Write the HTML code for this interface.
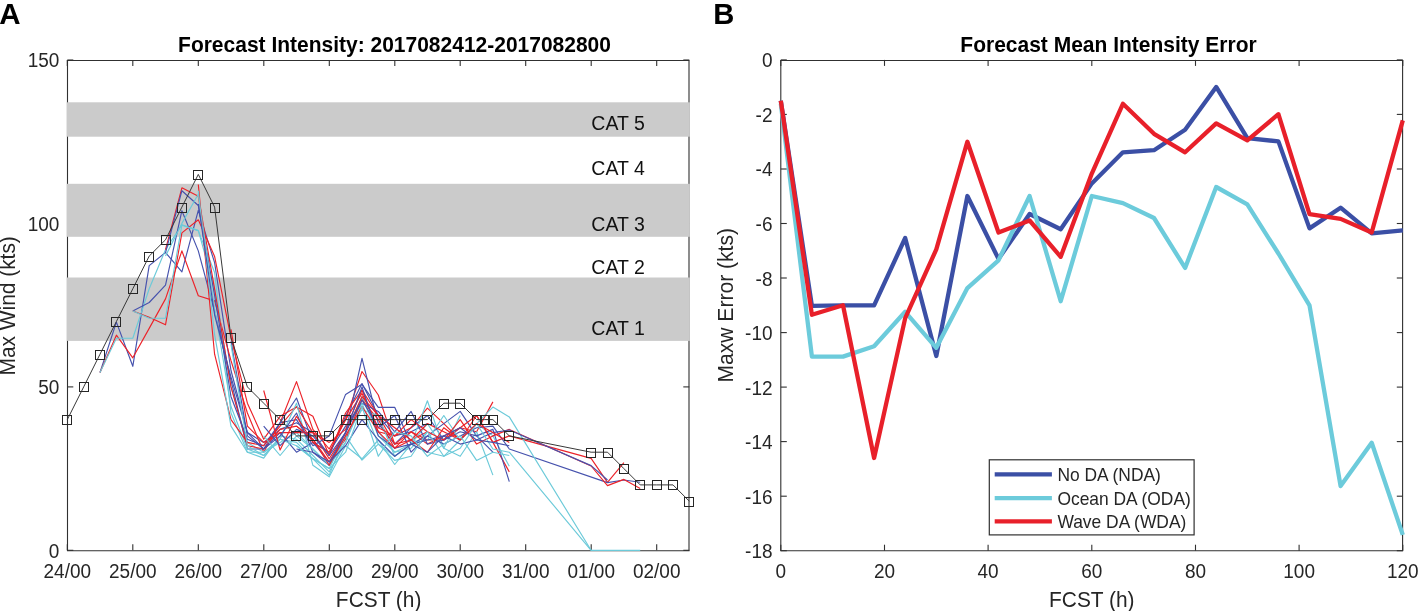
<!DOCTYPE html>
<html><head><meta charset="utf-8"><style>
html,body{margin:0;padding:0;background:#fff;width:1418px;height:611px;overflow:hidden}
svg{display:block;will-change:transform}
</style></head><body>
<svg width="1418" height="611" viewBox="0 0 1418 611" font-family='"Liberation Sans", sans-serif'><path d="M67.5,60.5 H689.0 V550.7 H67.5 Z" fill="none" stroke="#303030" stroke-width="1.1"/>
<line x1="67.3" y1="550.3" x2="67.3" y2="544.3" stroke="#303030" stroke-width="1.1"/>
<line x1="67.3" y1="60.0" x2="67.3" y2="66.0" stroke="#303030" stroke-width="1.1"/>
<line x1="132.8" y1="550.3" x2="132.8" y2="544.3" stroke="#303030" stroke-width="1.1"/>
<line x1="132.8" y1="60.0" x2="132.8" y2="66.0" stroke="#303030" stroke-width="1.1"/>
<line x1="198.3" y1="550.3" x2="198.3" y2="544.3" stroke="#303030" stroke-width="1.1"/>
<line x1="198.3" y1="60.0" x2="198.3" y2="66.0" stroke="#303030" stroke-width="1.1"/>
<line x1="263.8" y1="550.3" x2="263.8" y2="544.3" stroke="#303030" stroke-width="1.1"/>
<line x1="263.8" y1="60.0" x2="263.8" y2="66.0" stroke="#303030" stroke-width="1.1"/>
<line x1="329.3" y1="550.3" x2="329.3" y2="544.3" stroke="#303030" stroke-width="1.1"/>
<line x1="329.3" y1="60.0" x2="329.3" y2="66.0" stroke="#303030" stroke-width="1.1"/>
<line x1="394.8" y1="550.3" x2="394.8" y2="544.3" stroke="#303030" stroke-width="1.1"/>
<line x1="394.8" y1="60.0" x2="394.8" y2="66.0" stroke="#303030" stroke-width="1.1"/>
<line x1="460.2" y1="550.3" x2="460.2" y2="544.3" stroke="#303030" stroke-width="1.1"/>
<line x1="460.2" y1="60.0" x2="460.2" y2="66.0" stroke="#303030" stroke-width="1.1"/>
<line x1="525.7" y1="550.3" x2="525.7" y2="544.3" stroke="#303030" stroke-width="1.1"/>
<line x1="525.7" y1="60.0" x2="525.7" y2="66.0" stroke="#303030" stroke-width="1.1"/>
<line x1="591.2" y1="550.3" x2="591.2" y2="544.3" stroke="#303030" stroke-width="1.1"/>
<line x1="591.2" y1="60.0" x2="591.2" y2="66.0" stroke="#303030" stroke-width="1.1"/>
<line x1="656.7" y1="550.3" x2="656.7" y2="544.3" stroke="#303030" stroke-width="1.1"/>
<line x1="656.7" y1="60.0" x2="656.7" y2="66.0" stroke="#303030" stroke-width="1.1"/>
<line x1="67.3" y1="550.3" x2="73.3" y2="550.3" stroke="#303030" stroke-width="1.1"/>
<line x1="689.3" y1="550.3" x2="683.3" y2="550.3" stroke="#303030" stroke-width="1.1"/>
<line x1="67.3" y1="386.9" x2="73.3" y2="386.9" stroke="#303030" stroke-width="1.1"/>
<line x1="689.3" y1="386.9" x2="683.3" y2="386.9" stroke="#303030" stroke-width="1.1"/>
<line x1="67.3" y1="223.4" x2="73.3" y2="223.4" stroke="#303030" stroke-width="1.1"/>
<line x1="689.3" y1="223.4" x2="683.3" y2="223.4" stroke="#303030" stroke-width="1.1"/>
<line x1="67.3" y1="60.0" x2="73.3" y2="60.0" stroke="#303030" stroke-width="1.1"/>
<line x1="689.3" y1="60.0" x2="683.3" y2="60.0" stroke="#303030" stroke-width="1.1"/>
<rect x="66.7" y="102.3" width="623.2" height="34.4" fill="#cbcbcb"/>
<rect x="66.7" y="183.8" width="623.2" height="53.0" fill="#cbcbcb"/>
<rect x="66.7" y="277.5" width="623.2" height="63.4" fill="#cbcbcb"/>
<text transform="translate(591.30,129.60) scale(1,1.05)" font-size="19.5" fill="#111" text-anchor="start" font-weight="normal">CAT 5</text>
<text transform="translate(591.30,175.40) scale(1,1.05)" font-size="19.5" fill="#111" text-anchor="start" font-weight="normal">CAT 4</text>
<text transform="translate(591.30,231.00) scale(1,1.05)" font-size="19.5" fill="#111" text-anchor="start" font-weight="normal">CAT 3</text>
<text transform="translate(591.30,273.50) scale(1,1.05)" font-size="19.5" fill="#111" text-anchor="start" font-weight="normal">CAT 2</text>
<text transform="translate(591.30,335.00) scale(1,1.05)" font-size="19.5" fill="#111" text-anchor="start" font-weight="normal">CAT 1</text>
<polyline points="100.0,372.5 116.4,322.1 132.8,366.3 149.2,265.6 165.5,252.5 181.9,271.8 198.3,210.4 214.6,262.7 231.0,370.5 247.4,432.6 263.7,442.4 280.1,429.4 296.5,422.8 312.9,432.6 329.2,455.5 345.6,416.3 362.0,383.6 378.3,415.5 394.7,435.9 411.1,431.8 427.4,423.6" fill="none" stroke="#4652ad" stroke-width="1.15" stroke-linejoin="round"/>
<polyline points="100.0,372.5 116.4,335.2 132.8,357.8 149.2,328.4 165.5,298.9 181.9,250.9 198.3,295.7 214.6,300.9 231.0,360.7 247.4,413.0 263.7,452.2 280.1,422.8 296.5,381.6 312.9,429.4 329.2,449.0 345.6,419.6 362.0,371.5 378.3,395.0 394.7,444.1 411.1,440.0 427.4,431.8" fill="none" stroke="#ec2229" stroke-width="1.15" stroke-linejoin="round"/>
<polyline points="100.0,372.5 116.4,338.2 132.8,338.2 149.2,288.8 165.5,249.6 181.9,224.7 198.3,230.6 214.6,288.8 231.0,386.9 247.4,442.4 263.7,452.2 280.1,442.4 296.5,432.6 312.9,449.0 329.2,465.3 345.6,432.6 362.0,396.7 378.3,431.8 394.7,452.2 411.1,448.2 427.4,431.8" fill="none" stroke="#6ccad9" stroke-width="1.15" stroke-linejoin="round"/>
<polyline points="132.8,311.0 149.2,302.5 165.5,285.2 181.9,210.7 198.3,250.9 214.6,311.7 231.0,380.3 247.4,449.0 263.7,449.0 280.1,422.8 296.5,398.0 312.9,442.4 329.2,462.0 345.6,432.6 362.0,358.4 378.3,423.6 394.7,444.1 411.1,427.7 427.4,415.5 443.8,440.0 460.2,427.7" fill="none" stroke="#4652ad" stroke-width="1.15" stroke-linejoin="round"/>
<polyline points="132.8,311.0 149.2,317.2 165.5,324.8 181.9,232.9 198.3,219.8 214.6,256.4 231.0,337.8 247.4,403.2 263.7,439.2 280.1,416.3 296.5,407.1 312.9,416.3 329.2,455.5 345.6,413.0 362.0,390.1 378.3,431.8 394.7,435.9 411.1,427.7 427.4,408.1 443.8,423.6 460.2,440.0" fill="none" stroke="#ec2229" stroke-width="1.15" stroke-linejoin="round"/>
<polyline points="132.8,311.0 149.2,318.2 165.5,318.2 181.9,225.1 198.3,230.6 214.6,272.5 231.0,413.0 247.4,452.2 263.7,458.1 280.1,435.9 296.5,439.2 312.9,455.5 329.2,471.9 345.6,442.4 362.0,396.7 378.3,435.9 394.7,452.2 411.1,444.1 427.4,400.8 443.8,448.2 460.2,415.5" fill="none" stroke="#6ccad9" stroke-width="1.15" stroke-linejoin="round"/>
<polyline points="165.5,249.6 181.9,187.8 198.3,196.3 214.6,288.8 231.0,386.9 247.4,445.7 263.7,449.0 280.1,429.4 296.5,426.1 312.9,439.2 329.2,462.0 345.6,439.2 362.0,399.9 378.3,419.6 394.7,448.2 411.1,431.8 427.4,440.0 443.8,440.0 460.2,427.7 476.6,431.8 492.9,401.9" fill="none" stroke="#ec2229" stroke-width="1.15" stroke-linejoin="round"/>
<polyline points="165.5,252.8 181.9,190.7 198.3,205.5 214.6,295.3 231.0,396.7 247.4,439.2 263.7,445.7 280.1,422.8 296.5,419.6 312.9,445.7 329.2,435.9 345.6,394.4 362.0,384.3 378.3,407.3 394.7,407.3 411.1,444.1 427.4,435.9 443.8,423.6 460.2,411.4 476.6,435.9 492.9,452.2" fill="none" stroke="#4652ad" stroke-width="1.15" stroke-linejoin="round"/>
<polyline points="165.5,256.1 181.9,223.4 198.3,194.0 214.6,308.4 231.0,406.5 247.4,449.0 263.7,455.5 280.1,439.2 296.5,442.4 312.9,458.8 329.2,468.6 345.6,435.9 362.0,409.7 378.3,415.5 394.7,456.3 411.1,444.1 427.4,423.6 443.8,448.2 460.2,456.3 476.6,431.8 492.9,475.1" fill="none" stroke="#6ccad9" stroke-width="1.15" stroke-linejoin="round"/>
<polyline points="198.3,184.5 214.6,354.2 231.0,419.6 247.4,442.4 263.7,445.7 280.1,426.1 296.5,406.5 312.9,432.6 329.2,458.8 345.6,432.6 362.0,396.7 378.3,415.5 394.7,444.1 411.1,431.8 427.4,444.1 443.8,435.9 460.2,427.7 476.6,415.5 492.9,442.4 509.3,471.9" fill="none" stroke="#ec2229" stroke-width="1.15" stroke-linejoin="round"/>
<polyline points="198.3,190.7 214.6,334.6 231.0,426.1 247.4,452.2 263.7,452.2 280.1,439.2 296.5,403.2 312.9,465.3 329.2,476.8 345.6,445.7 362.0,458.8 378.3,440.0 394.7,464.5 411.1,444.1 427.4,452.2 443.8,456.3 460.2,440.0 476.6,423.6 492.9,435.9 509.3,466.3" fill="none" stroke="#6ccad9" stroke-width="1.15" stroke-linejoin="round"/>
<polyline points="198.3,203.8 214.6,315.0 231.0,377.1 247.4,432.6 263.7,449.0 280.1,432.6 296.5,452.2 312.9,442.4 329.2,452.2 345.6,426.1 362.0,403.2 378.3,411.4 394.7,431.8 411.1,411.4 427.4,444.1 443.8,440.0 460.2,431.8 476.6,435.9 492.9,429.4 509.3,481.7" fill="none" stroke="#4652ad" stroke-width="1.15" stroke-linejoin="round"/>
<polyline points="231.0,329.3 247.4,426.1 263.7,442.4 280.1,432.6 296.5,432.6 312.9,432.6 329.2,442.4 345.6,429.4 362.0,390.1 378.3,415.5 394.7,427.7 411.1,440.0 427.4,423.6 443.8,431.8 460.2,440.0 476.6,415.5 492.9,442.4 509.3,435.9 591.1,458.4 607.5,482.3 623.9,462.7" fill="none" stroke="#ec2229" stroke-width="1.15" stroke-linejoin="round"/>
<polyline points="231.0,341.1 247.4,435.9 263.7,449.0 280.1,435.9 296.5,413.0 312.9,452.2 329.2,465.3 345.6,432.6 362.0,399.9 378.3,427.7 394.7,415.5 411.1,452.2 427.4,435.9 443.8,444.1 460.2,435.9 476.6,427.7 492.9,426.1 509.3,449.0 607.5,482.6 623.9,480.0 640.2,482.3" fill="none" stroke="#4652ad" stroke-width="1.15" stroke-linejoin="round"/>
<polyline points="231.0,344.4 247.4,445.7 263.7,455.5 280.1,439.2 296.5,445.7 312.9,458.8 329.2,475.1 345.6,435.9 362.0,460.1 378.3,444.1 394.7,456.3 411.1,444.1 427.4,440.0 443.8,415.5 460.2,440.0 476.6,423.6 492.9,407.1 509.3,416.9 591.1,550.3 640.2,550.3" fill="none" stroke="#6ccad9" stroke-width="1.15" stroke-linejoin="round"/>
<polyline points="263.7,390.5 280.1,450.0 296.5,416.3 312.9,442.4 329.2,452.2 345.6,419.6 362.0,393.4 378.3,427.7 394.7,435.9 411.1,419.6 427.4,431.8 443.8,440.0 460.2,419.6 476.6,444.1 492.9,435.9 509.3,429.4 591.1,466.0 607.5,485.6 623.9,479.4 640.2,488.5" fill="none" stroke="#ec2229" stroke-width="1.15" stroke-linejoin="round"/>
<polyline points="263.7,426.1 280.1,445.7 296.5,429.4 312.9,435.9 329.2,455.5 345.6,432.6 362.0,386.9 378.3,435.9 394.7,448.2 411.1,444.1 427.4,440.0 443.8,435.9 460.2,427.7 476.6,440.0 492.9,432.6 509.3,430.0 591.1,465.6 607.5,480.0" fill="none" stroke="#4652ad" stroke-width="1.15" stroke-linejoin="round"/>
<polyline points="263.7,435.9 280.1,455.5 296.5,435.9 312.9,449.0 329.2,465.3 345.6,442.4 362.0,403.2 378.3,444.1 394.7,460.4 411.1,456.3 427.4,431.8 443.8,456.3 460.2,448.2 476.6,423.6 492.9,449.0 509.3,452.2 591.1,550.3" fill="none" stroke="#6ccad9" stroke-width="1.15" stroke-linejoin="round"/>
<polyline points="296.5,426.1 312.9,439.2 329.2,465.3 345.6,435.9 362.0,406.5 378.3,431.8 394.7,448.2 411.1,440.0 427.4,452.2 443.8,427.7 460.2,440.0 476.6,423.6 492.9,432.6 509.3,442.4" fill="none" stroke="#ec2229" stroke-width="1.15" stroke-linejoin="round"/>
<polyline points="296.5,449.0 312.9,452.2 329.2,462.0 345.6,445.7 362.0,419.6 378.3,440.0 394.7,456.3 411.1,444.1 427.4,452.2 443.8,435.9 460.2,444.1 476.6,440.0 492.9,442.4 509.3,445.7" fill="none" stroke="#4652ad" stroke-width="1.15" stroke-linejoin="round"/>
<polyline points="296.5,445.7 312.9,458.8 329.2,468.6 345.6,452.2 362.0,406.5 378.3,456.3 394.7,431.8 411.1,435.9 427.4,456.3 443.8,444.1 460.2,435.9 476.6,460.4 492.9,452.2 509.3,455.5" fill="none" stroke="#6ccad9" stroke-width="1.15" stroke-linejoin="round"/>
<polyline points="67.3,419.6 83.7,386.9 100.0,354.2 116.4,321.5 132.8,288.8 149.2,256.1 165.5,239.8 181.9,207.1 198.3,174.4 214.6,207.1 231.0,337.8 247.4,386.9 263.7,403.2 280.1,419.6 296.5,435.9 312.9,435.9 329.2,435.9 345.6,419.6 362.0,419.6 378.3,419.6 394.7,419.6 411.1,419.6 427.4,419.6 443.8,403.2 460.2,403.2 476.6,419.6 484.7,419.6 492.9,419.6 509.3,435.9 591.1,452.2 607.5,452.2 623.9,468.6 640.2,484.9 656.6,484.9 673.0,484.9 689.4,501.3" fill="none" stroke="#383838" stroke-width="1.0"/>
<rect x="62.5" y="415.5" width="9" height="9" fill="none" stroke="#262626" stroke-width="1.0"/>
<rect x="79.5" y="382.5" width="9" height="9" fill="none" stroke="#262626" stroke-width="1.0"/>
<rect x="95.5" y="350.5" width="9" height="9" fill="none" stroke="#262626" stroke-width="1.0"/>
<rect x="111.5" y="317.5" width="9" height="9" fill="none" stroke="#262626" stroke-width="1.0"/>
<rect x="128.5" y="284.5" width="9" height="9" fill="none" stroke="#262626" stroke-width="1.0"/>
<rect x="144.5" y="252.5" width="9" height="9" fill="none" stroke="#262626" stroke-width="1.0"/>
<rect x="161.5" y="235.5" width="9" height="9" fill="none" stroke="#262626" stroke-width="1.0"/>
<rect x="177.5" y="203.5" width="9" height="9" fill="none" stroke="#262626" stroke-width="1.0"/>
<rect x="193.5" y="170.5" width="9" height="9" fill="none" stroke="#262626" stroke-width="1.0"/>
<rect x="210.5" y="203.5" width="9" height="9" fill="none" stroke="#262626" stroke-width="1.0"/>
<rect x="226.5" y="333.5" width="9" height="9" fill="none" stroke="#262626" stroke-width="1.0"/>
<rect x="242.5" y="382.5" width="9" height="9" fill="none" stroke="#262626" stroke-width="1.0"/>
<rect x="259.5" y="399.5" width="9" height="9" fill="none" stroke="#262626" stroke-width="1.0"/>
<rect x="275.5" y="415.5" width="9" height="9" fill="none" stroke="#262626" stroke-width="1.0"/>
<rect x="291.5" y="431.5" width="9" height="9" fill="none" stroke="#262626" stroke-width="1.0"/>
<rect x="308.5" y="431.5" width="9" height="9" fill="none" stroke="#262626" stroke-width="1.0"/>
<rect x="324.5" y="431.5" width="9" height="9" fill="none" stroke="#262626" stroke-width="1.0"/>
<rect x="341.5" y="415.5" width="9" height="9" fill="none" stroke="#262626" stroke-width="1.0"/>
<rect x="357.5" y="415.5" width="9" height="9" fill="none" stroke="#262626" stroke-width="1.0"/>
<rect x="373.5" y="415.5" width="9" height="9" fill="none" stroke="#262626" stroke-width="1.0"/>
<rect x="390.5" y="415.5" width="9" height="9" fill="none" stroke="#262626" stroke-width="1.0"/>
<rect x="406.5" y="415.5" width="9" height="9" fill="none" stroke="#262626" stroke-width="1.0"/>
<rect x="422.5" y="415.5" width="9" height="9" fill="none" stroke="#262626" stroke-width="1.0"/>
<rect x="439.5" y="399.5" width="9" height="9" fill="none" stroke="#262626" stroke-width="1.0"/>
<rect x="455.5" y="399.5" width="9" height="9" fill="none" stroke="#262626" stroke-width="1.0"/>
<rect x="472.5" y="415.5" width="9" height="9" fill="none" stroke="#262626" stroke-width="1.0"/>
<rect x="480.5" y="415.5" width="9" height="9" fill="none" stroke="#262626" stroke-width="1.0"/>
<rect x="488.5" y="415.5" width="9" height="9" fill="none" stroke="#262626" stroke-width="1.0"/>
<rect x="504.5" y="431.5" width="9" height="9" fill="none" stroke="#262626" stroke-width="1.0"/>
<rect x="586.5" y="448.5" width="9" height="9" fill="none" stroke="#262626" stroke-width="1.0"/>
<rect x="603.5" y="448.5" width="9" height="9" fill="none" stroke="#262626" stroke-width="1.0"/>
<rect x="619.5" y="464.5" width="9" height="9" fill="none" stroke="#262626" stroke-width="1.0"/>
<rect x="635.5" y="480.5" width="9" height="9" fill="none" stroke="#262626" stroke-width="1.0"/>
<rect x="652.5" y="480.5" width="9" height="9" fill="none" stroke="#262626" stroke-width="1.0"/>
<rect x="668.5" y="480.5" width="9" height="9" fill="none" stroke="#262626" stroke-width="1.0"/>
<rect x="684.5" y="497.5" width="9" height="9" fill="none" stroke="#262626" stroke-width="1.0"/>
<text transform="translate(59.30,557.80) scale(1,1.07)" font-size="19" fill="#262626" text-anchor="end" font-weight="normal">0</text>
<text transform="translate(59.30,394.36) scale(1,1.07)" font-size="19" fill="#262626" text-anchor="end" font-weight="normal">50</text>
<text transform="translate(59.30,230.93) scale(1,1.07)" font-size="19" fill="#262626" text-anchor="end" font-weight="normal">100</text>
<text transform="translate(59.30,67.49) scale(1,1.07)" font-size="19" fill="#262626" text-anchor="end" font-weight="normal">150</text>
<text transform="translate(67.30,578.10) scale(1,1.07)" font-size="19" fill="#262626" text-anchor="middle" font-weight="normal">24/00</text>
<text transform="translate(132.79,578.10) scale(1,1.07)" font-size="19" fill="#262626" text-anchor="middle" font-weight="normal">25/00</text>
<text transform="translate(198.28,578.10) scale(1,1.07)" font-size="19" fill="#262626" text-anchor="middle" font-weight="normal">26/00</text>
<text transform="translate(263.77,578.10) scale(1,1.07)" font-size="19" fill="#262626" text-anchor="middle" font-weight="normal">27/00</text>
<text transform="translate(329.26,578.10) scale(1,1.07)" font-size="19" fill="#262626" text-anchor="middle" font-weight="normal">28/00</text>
<text transform="translate(394.75,578.10) scale(1,1.07)" font-size="19" fill="#262626" text-anchor="middle" font-weight="normal">29/00</text>
<text transform="translate(460.24,578.10) scale(1,1.07)" font-size="19" fill="#262626" text-anchor="middle" font-weight="normal">30/00</text>
<text transform="translate(525.73,578.10) scale(1,1.07)" font-size="19" fill="#262626" text-anchor="middle" font-weight="normal">31/00</text>
<text transform="translate(591.22,578.10) scale(1,1.07)" font-size="19" fill="#262626" text-anchor="middle" font-weight="normal">01/00</text>
<text transform="translate(656.71,578.10) scale(1,1.07)" font-size="19" fill="#262626" text-anchor="middle" font-weight="normal">02/00</text>
<text transform="translate(378.60,606.80) scale(1,1.07)" font-size="20.9" fill="#262626" text-anchor="middle" font-weight="normal">FCST (h)</text>
<text transform="translate(15.40,305.80) rotate(-90) scale(1,1.05)" font-size="20.9" fill="#262626" text-anchor="middle" font-weight="normal">Max Wind (kts)</text>
<text transform="translate(394.50,52.20) scale(1,1.08)" font-size="21" fill="#000" text-anchor="middle" font-weight="bold">Forecast Intensity: 2017082412-2017082800</text>
<text transform="translate(-0.70,24.10) scale(1,1.0)" font-size="29.5" fill="#000" text-anchor="start" font-weight="bold">A</text>
<path d="M780.8,60.5 H1402.6 V550.7 H780.8 Z" fill="none" stroke="#303030" stroke-width="1.1"/>
<line x1="780.8" y1="550.7" x2="780.8" y2="544.7" stroke="#303030" stroke-width="1.1"/>
<line x1="780.8" y1="59.9" x2="780.8" y2="65.9" stroke="#303030" stroke-width="1.1"/>
<text transform="translate(780.80,578.10) scale(1,1.07)" font-size="19" fill="#262626" text-anchor="middle" font-weight="normal">0</text>
<line x1="884.5" y1="550.7" x2="884.5" y2="544.7" stroke="#303030" stroke-width="1.1"/>
<line x1="884.5" y1="59.9" x2="884.5" y2="65.9" stroke="#303030" stroke-width="1.1"/>
<text transform="translate(884.47,578.10) scale(1,1.07)" font-size="19" fill="#262626" text-anchor="middle" font-weight="normal">20</text>
<line x1="988.1" y1="550.7" x2="988.1" y2="544.7" stroke="#303030" stroke-width="1.1"/>
<line x1="988.1" y1="59.9" x2="988.1" y2="65.9" stroke="#303030" stroke-width="1.1"/>
<text transform="translate(988.13,578.10) scale(1,1.07)" font-size="19" fill="#262626" text-anchor="middle" font-weight="normal">40</text>
<line x1="1091.8" y1="550.7" x2="1091.8" y2="544.7" stroke="#303030" stroke-width="1.1"/>
<line x1="1091.8" y1="59.9" x2="1091.8" y2="65.9" stroke="#303030" stroke-width="1.1"/>
<text transform="translate(1091.80,578.10) scale(1,1.07)" font-size="19" fill="#262626" text-anchor="middle" font-weight="normal">60</text>
<line x1="1195.5" y1="550.7" x2="1195.5" y2="544.7" stroke="#303030" stroke-width="1.1"/>
<line x1="1195.5" y1="59.9" x2="1195.5" y2="65.9" stroke="#303030" stroke-width="1.1"/>
<text transform="translate(1195.47,578.10) scale(1,1.07)" font-size="19" fill="#262626" text-anchor="middle" font-weight="normal">80</text>
<line x1="1299.1" y1="550.7" x2="1299.1" y2="544.7" stroke="#303030" stroke-width="1.1"/>
<line x1="1299.1" y1="59.9" x2="1299.1" y2="65.9" stroke="#303030" stroke-width="1.1"/>
<text transform="translate(1299.13,578.10) scale(1,1.07)" font-size="19" fill="#262626" text-anchor="middle" font-weight="normal">100</text>
<line x1="1402.8" y1="550.7" x2="1402.8" y2="544.7" stroke="#303030" stroke-width="1.1"/>
<line x1="1402.8" y1="59.9" x2="1402.8" y2="65.9" stroke="#303030" stroke-width="1.1"/>
<text transform="translate(1402.80,578.10) scale(1,1.07)" font-size="19" fill="#262626" text-anchor="middle" font-weight="normal">120</text>
<line x1="780.8" y1="59.9" x2="786.8" y2="59.9" stroke="#303030" stroke-width="1.1"/>
<line x1="1402.8" y1="59.9" x2="1396.8" y2="59.9" stroke="#303030" stroke-width="1.1"/>
<text transform="translate(772.50,67.40) scale(1,1.07)" font-size="19" fill="#262626" text-anchor="end" font-weight="normal">0</text>
<line x1="780.8" y1="114.4" x2="786.8" y2="114.4" stroke="#303030" stroke-width="1.1"/>
<line x1="1402.8" y1="114.4" x2="1396.8" y2="114.4" stroke="#303030" stroke-width="1.1"/>
<text transform="translate(772.50,121.93) scale(1,1.07)" font-size="19" fill="#262626" text-anchor="end" font-weight="normal">-2</text>
<line x1="780.8" y1="169.0" x2="786.8" y2="169.0" stroke="#303030" stroke-width="1.1"/>
<line x1="1402.8" y1="169.0" x2="1396.8" y2="169.0" stroke="#303030" stroke-width="1.1"/>
<text transform="translate(772.50,176.47) scale(1,1.07)" font-size="19" fill="#262626" text-anchor="end" font-weight="normal">-4</text>
<line x1="780.8" y1="223.5" x2="786.8" y2="223.5" stroke="#303030" stroke-width="1.1"/>
<line x1="1402.8" y1="223.5" x2="1396.8" y2="223.5" stroke="#303030" stroke-width="1.1"/>
<text transform="translate(772.50,231.00) scale(1,1.07)" font-size="19" fill="#262626" text-anchor="end" font-weight="normal">-6</text>
<line x1="780.8" y1="278.0" x2="786.8" y2="278.0" stroke="#303030" stroke-width="1.1"/>
<line x1="1402.8" y1="278.0" x2="1396.8" y2="278.0" stroke="#303030" stroke-width="1.1"/>
<text transform="translate(772.50,285.53) scale(1,1.07)" font-size="19" fill="#262626" text-anchor="end" font-weight="normal">-8</text>
<line x1="780.8" y1="332.6" x2="786.8" y2="332.6" stroke="#303030" stroke-width="1.1"/>
<line x1="1402.8" y1="332.6" x2="1396.8" y2="332.6" stroke="#303030" stroke-width="1.1"/>
<text transform="translate(772.50,340.07) scale(1,1.07)" font-size="19" fill="#262626" text-anchor="end" font-weight="normal">-10</text>
<line x1="780.8" y1="387.1" x2="786.8" y2="387.1" stroke="#303030" stroke-width="1.1"/>
<line x1="1402.8" y1="387.1" x2="1396.8" y2="387.1" stroke="#303030" stroke-width="1.1"/>
<text transform="translate(772.50,394.60) scale(1,1.07)" font-size="19" fill="#262626" text-anchor="end" font-weight="normal">-12</text>
<line x1="780.8" y1="441.6" x2="786.8" y2="441.6" stroke="#303030" stroke-width="1.1"/>
<line x1="1402.8" y1="441.6" x2="1396.8" y2="441.6" stroke="#303030" stroke-width="1.1"/>
<text transform="translate(772.50,449.13) scale(1,1.07)" font-size="19" fill="#262626" text-anchor="end" font-weight="normal">-14</text>
<line x1="780.8" y1="496.2" x2="786.8" y2="496.2" stroke="#303030" stroke-width="1.1"/>
<line x1="1402.8" y1="496.2" x2="1396.8" y2="496.2" stroke="#303030" stroke-width="1.1"/>
<text transform="translate(772.50,503.67) scale(1,1.07)" font-size="19" fill="#262626" text-anchor="end" font-weight="normal">-16</text>
<line x1="780.8" y1="550.7" x2="786.8" y2="550.7" stroke="#303030" stroke-width="1.1"/>
<line x1="1402.8" y1="550.7" x2="1396.8" y2="550.7" stroke="#303030" stroke-width="1.1"/>
<text transform="translate(772.50,558.20) scale(1,1.07)" font-size="19" fill="#262626" text-anchor="end" font-weight="normal">-18</text>
<text transform="translate(1091.80,606.80) scale(1,1.07)" font-size="20.9" fill="#262626" text-anchor="middle" font-weight="normal">FCST (h)</text>
<text transform="translate(732.60,305.30) rotate(-90) scale(1,1.05)" font-size="21.1" fill="#262626" text-anchor="middle" font-weight="normal">Maxw Error (kts)</text>
<text transform="translate(1108.50,52.20) scale(1,1.08)" font-size="21" fill="#000" text-anchor="middle" font-weight="bold">Forecast Mean Intensity Error</text>
<text transform="translate(713.20,24.10) scale(1,1.0)" font-size="29.2" fill="#000" text-anchor="start" font-weight="bold">B</text>
<polyline points="780.8,100.8 811.9,305.8 843.0,305.3 874.1,305.3 905.2,238.0 936.3,356.0 967.4,196.0 998.5,258.9 1029.6,214.0 1060.7,229.2 1091.8,183.4 1122.9,152.3 1154.0,150.2 1185.1,129.7 1216.2,86.9 1247.3,138.2 1278.4,141.4 1309.5,228.4 1340.6,207.7 1371.7,233.3 1402.8,230.3" fill="none" stroke="#3b4fa5" stroke-width="4.3" stroke-linejoin="round"/>
<polyline points="780.8,103.5 811.9,356.6 843.0,356.6 874.1,346.2 905.2,311.8 936.3,347.8 967.4,288.1 998.5,260.3 1029.6,196.0 1060.7,301.2 1091.8,196.0 1122.9,203.1 1154.0,218.0 1185.1,267.9 1216.2,187.0 1247.3,204.4 1278.4,253.5 1309.5,305.3 1340.6,486.1 1371.7,442.7 1402.8,534.9" fill="none" stroke="#6ccbdb" stroke-width="4.3" stroke-linejoin="round"/>
<polyline points="780.8,100.8 811.9,314.8 843.0,305.3 874.1,458.0 905.2,318.1 936.3,249.4 967.4,141.7 998.5,232.5 1029.6,220.5 1060.7,256.8 1091.8,173.6 1122.9,103.8 1154.0,133.8 1185.1,152.3 1216.2,123.4 1247.3,140.3 1278.4,114.2 1309.5,214.2 1340.6,218.9 1371.7,232.5 1402.8,120.4" fill="none" stroke="#e8202a" stroke-width="4.3" stroke-linejoin="round"/>
<rect x="989.3" y="459.8" width="204.8" height="75.1" fill="#fff" stroke="#303030" stroke-width="1.2"/>
<line x1="994.7" y1="474.4" x2="1051.9" y2="474.4" stroke="#3b4fa5" stroke-width="4.3"/>
<text transform="translate(1057.40,481.20) scale(1,1.04)" font-size="17.4" fill="#262626" text-anchor="start" font-weight="normal">No DA (NDA)</text>
<line x1="994.7" y1="498.1" x2="1051.9" y2="498.1" stroke="#6ccbdb" stroke-width="4.3"/>
<text transform="translate(1057.40,504.90) scale(1,1.04)" font-size="17.4" fill="#262626" text-anchor="start" font-weight="normal">Ocean DA (ODA)</text>
<line x1="994.7" y1="521.4" x2="1051.9" y2="521.4" stroke="#e8202a" stroke-width="4.3"/>
<text transform="translate(1057.40,528.20) scale(1,1.04)" font-size="17.4" fill="#262626" text-anchor="start" font-weight="normal">Wave DA (WDA)</text></svg>
</body></html>
